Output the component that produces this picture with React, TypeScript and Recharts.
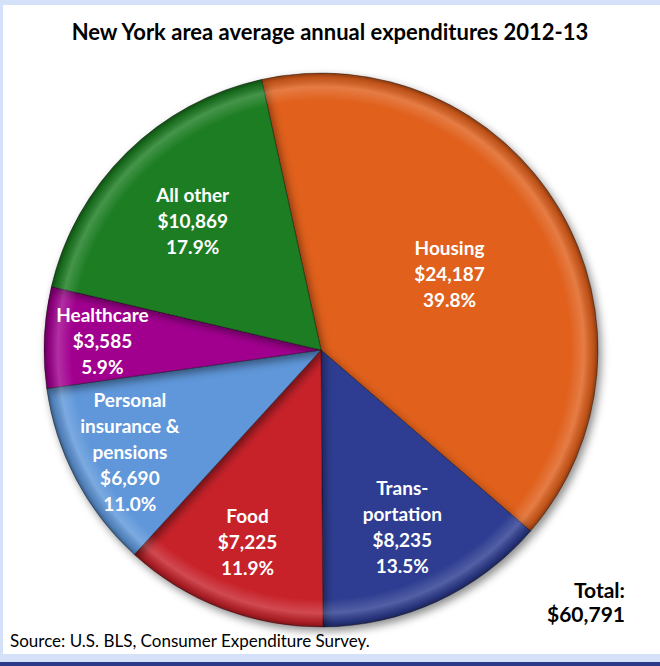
import { PieChart, Pie, Cell } from 'recharts'

const CATEGORIES = [
  'Housing',
  'Trans-\nportation',
  'Food',
  'Personal\ninsurance &\npensions',
  'Healthcare',
  'All other',
]
const VALUES = [24187, 8235, 7225, 6690, 3585, 10869]
const COLORS = ['#e0611f', '#2f3c91', '#c7242b', '#5e97da', '#a1068f', '#1f7d22']

const TOTAL = VALUES.reduce((a, b) => a + b, 0)

// how far out each label sits, as a fraction of the radius
const LABEL_R = [0.54, 0.7, 0.74, 0.78, 0.79, 0.66]

const FONT = 'Lato, "Open Sans", sans-serif'
const RAD = Math.PI / 180

const data = CATEGORIES.map((name, i) => ({ name, value: VALUES[i] }))

function SliceLabel(props: any) {
  const { cx, cy, midAngle, outerRadius, index } = props
  const r = outerRadius * LABEL_R[index]
  const x = cx + r * Math.cos(-midAngle * RAD)
  const y = cy + r * Math.sin(-midAngle * RAD)
  const pct = ((VALUES[index] / TOTAL) * 100).toFixed(1)
  const lines = [...CATEGORIES[index].split('\n'), '$' + VALUES[index].toLocaleString('en-US'), pct + '%']
  const lh = 26
  const y0 = y - ((lines.length - 1) * lh) / 2
  return (
    <text
      x={x}
      y={y0}
      textAnchor="middle"
      dominantBaseline="central"
      fill="#fff"
      fontFamily={FONT}
      fontWeight={700}
      fontSize={19}
    >
      {lines.map((l, i) => (
        <tspan key={i} x={x} y={y0 + i * lh}>
          {l}
        </tspan>
      ))}
    </text>
  )
}

export default function App() {
  const cx = 321
  const cy = 350
  const R = 277
  return (
    <div
      style={{
        position: 'absolute',
        left: 0,
        top: 0,
        width: 660,
        height: 666,
        background: '#fff',
        fontFamily: FONT,
        overflow: 'hidden',
      }}
    >
      {/* frame */}
      <div style={{ position: 'absolute', left: 0, top: 0, width: 660, height: 5, background: '#d5e1f9' }} />
      <div style={{ position: 'absolute', left: 0, top: 0, width: 3, height: 662, background: '#d5e1f9' }} />
      <div style={{ position: 'absolute', left: 0, top: 654, width: 660, height: 8, background: '#d5e1f9' }} />
      <div style={{ position: 'absolute', left: 0, top: 662, width: 660, height: 4, background: '#2c3a87' }} />

      <div
        style={{
          position: 'absolute',
          left: 0,
          top: 18,
          width: 660,
          textAlign: 'center',
          fontSize: 22,
          fontWeight: 700,
          color: '#000',
        }}
      >
        New York area average annual expenditures 2012-13
      </div>

      <div style={{ position: 'absolute', left: 0, top: 0 }}>
        <PieChart width={660} height={666} margin={{ top: 0, right: 0, bottom: 0, left: 0 }}>
          <defs>
            <filter id="shadow" x="-20%" y="-20%" width="140%" height="140%">
              <feDropShadow dx="3" dy="4" stdDeviation="4" floodColor="#000" floodOpacity="0.45" />
            </filter>
            <radialGradient id="rim" gradientUnits="userSpaceOnUse" cx={cx} cy={cy} r={R}>
              <stop offset="0" stopColor="#fff" stopOpacity="0" />
              <stop offset="0.9" stopColor="#fff" stopOpacity="0" />
              <stop offset="0.95" stopColor="#fff" stopOpacity="0.18" />
              <stop offset="0.985" stopColor="#000" stopOpacity="0.15" />
              <stop offset="1" stopColor="#000" stopOpacity="0.4" />
            </radialGradient>
          </defs>
          <Pie
            data={data}
            dataKey="value"
            cx={cx}
            cy={cy}
            outerRadius={R}
            startAngle={102.4}
            endAngle={-257.6}
            stroke="rgba(0,0,0,0.35)"
            strokeWidth={1}
            style={{ filter: 'url(#shadow)' }}
            label={false}
            labelLine={false}
            isAnimationActive={false}
          >
            {data.map((d, i) => (
              <Cell key={d.name} fill={COLORS[i]} />
            ))}
          </Pie>
          <Pie
            data={data}
            dataKey="value"
            cx={cx}
            cy={cy}
            outerRadius={R}
            startAngle={102.4}
            endAngle={-257.6}
            fill="url(#rim)"
            stroke="none"
            label={SliceLabel}
            labelLine={false}
            isAnimationActive={false}
          />
        </PieChart>
      </div>

      <div
        style={{
          position: 'absolute',
          right: 35,
          top: 578,
          textAlign: 'right',
          fontSize: 21,
          fontWeight: 700,
          lineHeight: '24px',
          color: '#000',
        }}
      >
        Total:
        <br />
        $60,791
      </div>

      <div style={{ position: 'absolute', left: 10, top: 630, fontSize: 17, color: '#000' }}>
        Source: U.S. BLS, Consumer Expenditure Survey.
      </div>
    </div>
  )
}
